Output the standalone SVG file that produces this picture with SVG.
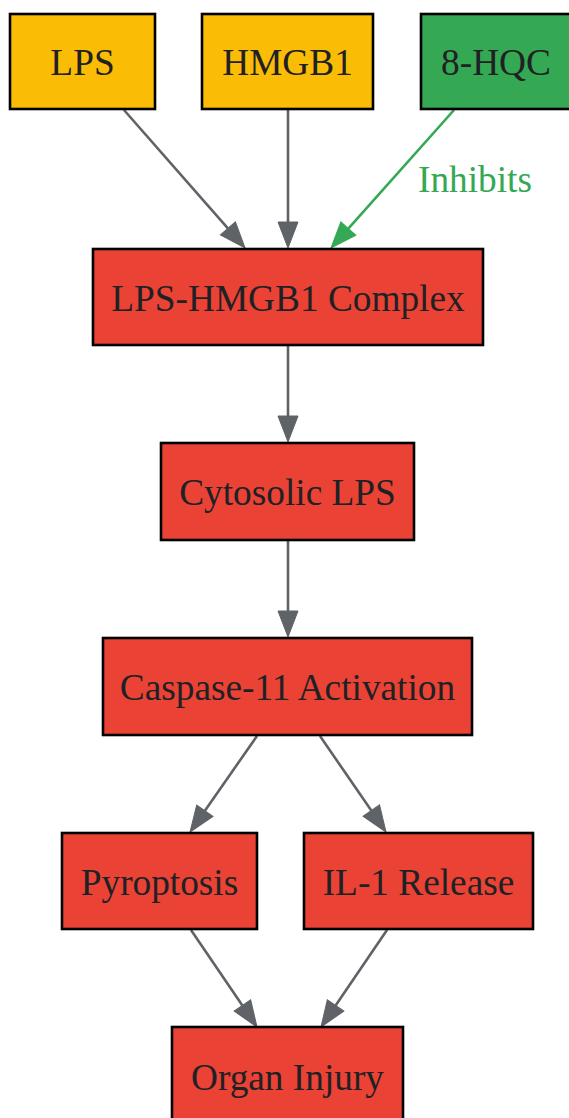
<svg xmlns="http://www.w3.org/2000/svg" width="569" height="1118" viewBox="0 0 569 1118">
<style>
.n rect{stroke:#000;stroke-width:2.6}
.y{fill:#FBBC05}.g{fill:#34A853}.r{fill:#EA4335}
text{font-family:"Liberation Serif","Times New Roman",serif;font-size:37.3px;fill:#202124;text-anchor:middle}
.e line{stroke:#5F6368;stroke-width:2.6;fill:none}
.e line.inh{stroke:#34A853}
.lbl{fill:#34A853;text-anchor:start}
</style>
<defs>
<marker id="ag" markerUnits="userSpaceOnUse" markerWidth="27" markerHeight="21" refX="0" refY="10" orient="auto" overflow="visible"><path d="M0,0 L26,10 L0,20 z" fill="#5F6368" stroke="#5F6368" stroke-width="1"/></marker>
<marker id="agr" markerUnits="userSpaceOnUse" markerWidth="27" markerHeight="21" refX="0" refY="10" orient="auto" overflow="visible"><path d="M0,0 L26,10 L0,20 z" fill="#34A853" stroke="#34A853" stroke-width="1"/></marker>
</defs>
<g class="e" id="edges">
<line x1="124" y1="110" x2="227.9" y2="228.4" marker-end="url(#ag)"/>
<line x1="288" y1="110" x2="288" y2="222" marker-end="url(#ag)"/>
<line class="inh" x1="454" y1="110" x2="348.3" y2="228.6" marker-end="url(#agr)"/>
<text class="lbl" x="418" y="192">Inhibits</text>
<line x1="288" y1="346" x2="288" y2="416" marker-end="url(#ag)"/>
<line x1="288" y1="541" x2="288" y2="611" marker-end="url(#ag)"/>
<line x1="257" y1="736" x2="204.9" y2="810.7" marker-end="url(#ag)"/>
<line x1="320" y1="736" x2="371.3" y2="810.6" marker-end="url(#ag)"/>
<line x1="191" y1="930" x2="242.4" y2="1005.5" marker-end="url(#ag)"/>
<line x1="387" y1="930" x2="335.6" y2="1005.5" marker-end="url(#ag)"/>
</g>
<g class="n" id="lps"><rect class="y" x="10" y="14" width="145" height="95"/><text x="82.5" y="75">LPS</text></g>
<g class="n" id="hmgb1"><rect class="y" x="202" y="14" width="171" height="95"/><text x="287.5" y="75">HMGB1</text></g>
<g class="n" id="hqc"><rect class="g" x="421" y="14" width="152" height="95"/><text x="496" y="75">8-HQC</text></g>
<g class="n" id="complex"><rect class="r" x="93" y="249" width="390" height="96"/><text x="288" y="311">LPS-HMGB1 Complex</text></g>
<g class="n" id="cyto"><rect class="r" x="161" y="443" width="253" height="97"/><text x="287.5" y="505">Cytosolic LPS</text></g>
<g class="n" id="casp"><rect class="r" x="103" y="638" width="369" height="97"/><text x="287.5" y="700">Caspase-11 Activation</text></g>
<g class="n" id="pyro"><rect class="r" x="62" y="833" width="195" height="96"/><text x="159.5" y="895">Pyroptosis</text></g>
<g class="n" id="il1"><rect class="r" x="304" y="833" width="229" height="96"/><text x="418.5" y="895">IL-1 Release</text></g>
<g class="n" id="organ"><rect class="r" x="172" y="1027" width="231" height="100"/><text x="287.5" y="1090">Organ Injury</text></g>
</svg>
